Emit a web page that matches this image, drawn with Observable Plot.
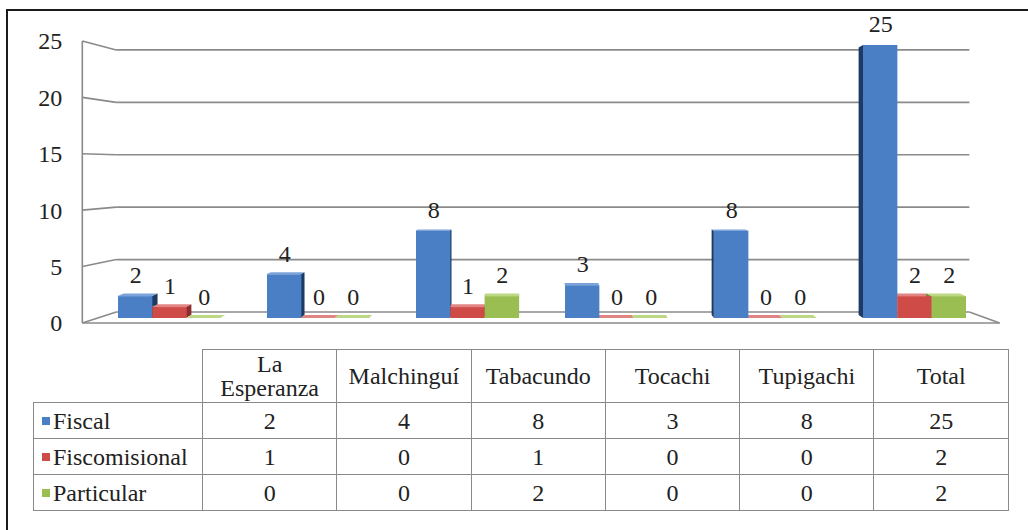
<!DOCTYPE html>
<html><head><meta charset="utf-8">
<script src="https://cdn.jsdelivr.net/npm/d3@7"></script>
<script src="https://cdn.jsdelivr.net/npm/@observablehq/plot@0.6"></script>
<style>
html,body{margin:0;padding:0;background:#fff;width:1028px;height:530px;overflow:hidden;font-family:"Liberation Serif",Tinos,"Times New Roman",Times,"DejaVu Serif",serif;color:#222;}
#frame{position:absolute;left:6px;top:9px;width:1100px;height:600px;border:2px solid #1b1b1b;box-sizing:border-box;}
#chart{position:absolute;left:0;top:0;}
#tbl{position:absolute;left:33px;top:349px;border-collapse:collapse;table-layout:fixed;font-size:24px;color:#222;font-family:"Liberation Serif",Tinos,"Times New Roman",Times,"DejaVu Serif",serif;}
#tbl td{border:1.5px solid #8a8a8a;text-align:center;padding:0;line-height:24px;}
#tbl tr.hdr td{height:52px;}
#tbl tr.row td{height:35px;}
#tbl td.corner{border:none;}
#tbl td.lab{text-align:left;padding-left:8px;white-space:nowrap;}
#tbl .sw{display:inline-block;width:8px;height:8px;margin-right:3px;vertical-align:middle;position:relative;top:-2px;}
svg text{font-family:"Liberation Serif",Tinos,"Times New Roman",Times,"DejaVu Serif",serif;}
</style></head><body>
<div id="frame"></div>
<div id="chart"></div>
<table id="tbl"></table>
<script>
// ---- data ----
const categories = ["La Esperanza", "Malchinguí", "Tabacundo", "Tocachi", "Tupigachi", "Total"];
const series = ["Fiscal", "Fiscomisional", "Particular"];
const fiscal = [2, 4, 8, 3, 8, 25];
const fiscomisional = [1, 0, 1, 0, 0, 2];
const particular = [0, 0, 2, 0, 0, 2];
const yTicks = [0, 5, 10, 15, 20, 25];

// ---- style ----
const colors = ["#4a7fc6", "#cf4b48", "#9bbe52"];
const sideColors = ["#1d3a63", "#8a2e2c", "#6b8a32"];
const topColors = ["#7ba3da", "#e08583", "#bcd884"];
const values = [fiscal, fiscomisional, particular];

const W = 1028, H = 340;
const mL = 92, mR = 37, mT = 45, mB = 22;
const PI = 0.31, PO = 0.1676;
const X0 = mL, X1 = W - mR;
// perspective (vanishing point and depth factors)
const VX = 567, VY = 168;
const FRONT = [1.0204, 1.033], BACK = [0.949, 0.96], BARBACK = [0.985, 0.98];
const FONT = "'Liberation Serif', Tinos, 'Times New Roman', Times, 'DejaVu Serif', serif";

const xBand = d3.scaleBand(categories, [X0, X1]).paddingInner(PI).paddingOuter(PO);
const bw = xBand.bandwidth();
const sub = d3.scaleBand(series, [0, bw]);
const sbw = sub.bandwidth();

const seriesData = series.map((s, i) => categories.map((c, j) => ({category: c, series: s, value: values[i][j]})));

function proj(x, y, f) { return [VX + f[0] * (x - VX), VY + f[1] * (y - VY)]; }

function decor(index, scales, vals, dims) {
  const y = scales.y;
  const g = d3.create("svg:g");
  const line = (a, b) => g.append("line").attr("x1", a[0]).attr("y1", a[1]).attr("x2", b[0]).attr("y2", b[1])
    .attr("stroke", "#8a8a8a").attr("stroke-width", 1.6);
  const y0 = y(0);
  line(proj(X0, y(0), FRONT), proj(X0, y(25), FRONT));
  for (const v of yTicks) {
    const fp = proj(X0, y(v), FRONT), bp = proj(X0, y(v), BACK), br = proj(X1, y(v), BACK);
    line(fp, bp);
    line(bp, br);
    g.append("text").attr("x", fp[0] - 20).attr("y", fp[1]).attr("text-anchor", "end")
      .attr("dy", "0.35em").attr("font-size", 24).attr("fill", "#222").text(v);
  }
  line(proj(X0, y0, FRONT), proj(X1, y0, FRONT));
  line(proj(X1, y0, FRONT), proj(X1, y0, BACK));
  const poly = (pts, fill) => g.append("polygon").attr("points", pts.map(p => p.join(",")).join(" ")).attr("fill", fill);
  series.forEach((s, i) => {
    categories.forEach((c, j) => {
      const v = values[i][j];
      const x0 = xBand(c) + sub(s), x1 = x0 + sbw, yt = y(v), yb = y0;
      if (x1 < VX) poly([[x1, yt], [x1, yb], proj(x1, yb, BARBACK), proj(x1, yt, BARBACK)], sideColors[i]);
      else if (x0 > VX) poly([[x0, yt], [x0, yb], proj(x0, yb, BARBACK), proj(x0, yt, BARBACK)], sideColors[i]);
      if (yt > VY) poly([[x0, yt], [x1, yt], proj(x1, yt, BARBACK), proj(x0, yt, BARBACK)], topColors[i]);
    });
  });
  return g.node();
}

const marks = [decor];
series.forEach((s, i) => {
  marks.push(Plot.barY(seriesData[i], {
    x: "category", y: "value", fill: colors[i],
    insetLeft: sub(s), insetRight: bw - sub(s) - sbw
  }));
});
series.forEach((s, i) => {
  marks.push(Plot.text(seriesData[i], {
    x: "category", y: "value", text: d => String(d.value),
    dx: sub(s) + sbw / 2 - bw / 2, dy: -21, fontSize: 24, fill: "#222"
  }));
});

const chart = Plot.plot({
  width: W, height: H,
  marginLeft: mL, marginRight: mR, marginTop: mT, marginBottom: mB,
  x: {type: "band", domain: categories, paddingInner: PI, paddingOuter: PO, axis: null},
  y: {domain: [0, 25], axis: null},
  style: {fontFamily: FONT, fontSize: "24px", background: "transparent", color: "#222"},
  marks
});
document.getElementById("chart").appendChild(chart);

// ---- data table ----
const tbl = d3.select("#tbl");
const cg = tbl.append("colgroup");
cg.append("col").style("width", "169px");
categories.forEach(() => cg.append("col").style("width", "134.3px"));
const hr = tbl.append("tr").attr("class", "hdr");
hr.append("td").attr("class", "corner");
categories.forEach(c => hr.append("td").style("padding", "0 8px").text(c));
series.forEach((s, i) => {
  const tr = tbl.append("tr").attr("class", "row");
  const lab = tr.append("td").attr("class", "lab");
  lab.append("span").attr("class", "sw").style("background", colors[i]);
  lab.append("span").text(s);
  values[i].forEach(v => tr.append("td").text(v));
});
</script>
</body></html>
